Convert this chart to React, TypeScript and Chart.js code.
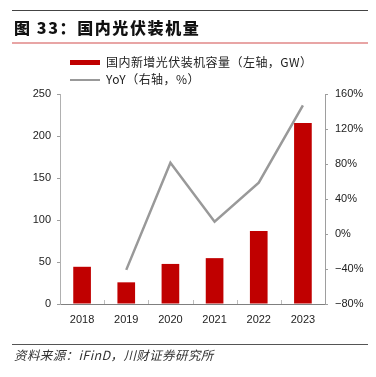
import React, { useEffect, useRef } from "react";
import { Chart, registerables } from "chart.js";

Chart.register(...registerables);

const categories = ["2018", "2019", "2020", "2021", "2022", "2023"];
const installedGW = [44.3, 25.8, 47.7, 54.6, 86.9, 215.6];
const yoyPct: (number | null)[] = [null, -41, 81.5, 14, 58.6, 147];
const leftTicks = [0, 50, 100, 150, 200, 250];
const rightTicks = [-80, -40, 0, 40, 80, 120, 160];

const titleText = "图 33：国内光伏装机量";
const legendBar = "国内新增光伏装机容量（左轴，GW）";
const legendLine = "YoY（右轴，%）";
const sourceText = "资料来源：iFinD，川财证券研究所";

const CJK = '"Noto Sans CJK SC", "Noto Sans", sans-serif';
const LAT = '"Liberation Sans", Arial, sans-serif';

const boundaryTicks = {
  id: "boundaryTicks",
  afterDraw(chart: any) {
    const x = chart.scales.x;
    const ctx = chart.ctx;
    ctx.save();
    ctx.strokeStyle = "#bdbdbd";
    ctx.lineWidth = 1;
    for (let i = 1; i < categories.length; i++) {
      const px = Math.round(x.getPixelForValue(i - 0.5)) + 0.5;
      ctx.beginPath();
      ctx.moveTo(px, x.top);
      ctx.lineTo(px, x.top - 4);
      ctx.stroke();
    }
    ctx.restore();
  },
};

export default function App() {
  const ref = useRef<HTMLCanvasElement>(null);
  useEffect(() => {
    if (!ref.current) return;
    const chart = new Chart(ref.current, {
      type: "bar",
      data: {
        labels: categories,
        datasets: [
          {
            type: "line",
            label: legendLine,
            data: yoyPct,
            yAxisID: "y1",
            borderColor: "#999999",
            borderWidth: 2.5,
            pointRadius: 0,
            spanGaps: true,
            order: 0,
          } as any,
          {
            type: "bar",
            label: legendBar,
            data: installedGW,
            yAxisID: "y",
            backgroundColor: "#C00000",
            barPercentage: 0.4,
            categoryPercentage: 1,
            order: 1,
          },
        ],
      },
      options: {
        responsive: false,
        animation: false,
        layout: { padding: { top: 94, left: 0, right: 0, bottom: 0 } },
        plugins: { legend: { display: false }, tooltip: { enabled: false } },
        scales: {
          x: {
            grid: { display: false, drawTicks: false },
            border: { display: true, color: "#7f7f7f", width: 1 },
            ticks: { color: "#222", font: { family: LAT, size: 11 }, padding: 9 },
            afterFit: (s: any) => {
              s.height = 73;
            },
          },
          y: {
            position: "left",
            min: 0,
            max: 250,
            afterBuildTicks: (s: any) => {
              s.ticks = leftTicks.map((v) => ({ value: v }));
            },
            grid: { drawOnChartArea: false, drawTicks: true, tickLength: 3, color: "#9e9e9e" },
            border: { display: true, color: "#b0b0b0", width: 1 },
            ticks: { color: "#222", font: { family: LAT, size: 11 }, padding: 6 },
            afterFit: (s: any) => {
              s.width = 60;
            },
          },
          y1: {
            position: "right",
            min: -80,
            max: 160,
            afterBuildTicks: (s: any) => {
              s.ticks = rightTicks.map((v) => ({ value: v }));
            },
            grid: { drawOnChartArea: false, drawTicks: true, tickLength: 3, color: "#9e9e9e" },
            border: { display: true, color: "#9e9e9e", width: 1 },
            ticks: {
              color: "#222",
              font: { family: LAT, size: 11 },
              padding: 7,
              callback: (v: any) => (v < 0 ? "\u2212" + Math.abs(v) : String(v)) + "%",
            },
            afterFit: (s: any) => {
              s.width = 51;
            },
          },
        },
      },
      plugins: [boundaryTicks],
    });
    return () => chart.destroy();
  }, []);

  return (
    <div style={{ position: "absolute", left: 0, top: 0, width: 376, height: 377, background: "#fff", overflow: "hidden" }}>
      <canvas ref={ref} width={376} height={377} style={{ position: "absolute", left: 0, top: 0, width: 376, height: 377 }} />
      <div style={{ position: "absolute", left: 12, top: 10, width: 356, height: 1, background: "#444" }} />
      <div style={{ position: "absolute", left: 14, top: 17, fontFamily: CJK, fontSize: 16, fontWeight: 900, lineHeight: "20px", letterSpacing: "1.6px", color: "#111", whiteSpace: "pre" }}>
        {titleText}
      </div>
      <div style={{ position: "absolute", left: 12, top: 42, width: 356, height: 1.5, background: "#e8a5a5" }} />
      <div style={{ position: "absolute", left: 70, top: 60, width: 30, height: 4.5, background: "#C00000" }} />
      <div style={{ position: "absolute", left: 106, top: 54, fontFamily: CJK, fontSize: 12, lineHeight: "16px", letterSpacing: "0.45px", color: "#222", whiteSpace: "pre" }}>
        {legendBar}
      </div>
      <div style={{ position: "absolute", left: 70, top: 78.5, width: 30, height: 2, background: "#999" }} />
      <div style={{ position: "absolute", left: 106, top: 71, fontFamily: CJK, fontSize: 12, lineHeight: "16px", letterSpacing: "0.45px", color: "#222", whiteSpace: "pre" }}>
        {legendLine}
      </div>
      <div style={{ position: "absolute", left: 12, top: 344, width: 356, height: 1, background: "#555" }} />
      <div style={{ position: "absolute", left: 14, top: 346, fontFamily: CJK, fontSize: 12.5, fontStyle: "italic", lineHeight: "18px", letterSpacing: "0.4px", color: "#333", whiteSpace: "pre" }}>
        {sourceText}
      </div>
    </div>
  );
}
